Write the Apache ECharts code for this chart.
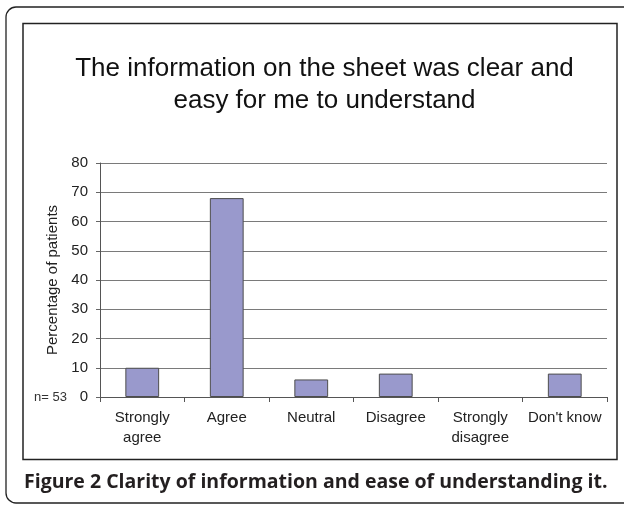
<!DOCTYPE html>
<html>
<head>
<meta charset="utf-8">
<script src="https://cdn.jsdelivr.net/npm/echarts@6/dist/echarts.min.js"></script>
<style>
  html, body { margin: 0; padding: 0; background: #fff; }
  #chart { width: 624px; height: 505px; }
</style>
</head>
<body>
<div id="chart"></div>
<script>
const categories = ["Strongly\nagree", "Agree", "Neutral", "Disagree", "Strongly\ndisagree", "Don't know"];
const percentages = [10, 68, 6, 8, 0, 8];
const yTicks = { min: 0, max: 80, step: 10 };
const titleLines = "The information on the sheet was clear and\neasy for me to understand";
const sampleNote = "n= 53";
const caption = "Figure 2 Clarity of information and ease of understanding it.";

const chart = echarts.init(document.getElementById("chart"));

chart.setOption({
  backgroundColor: "#fff",
  animation: false,
  grid: { left: 100, right: 17, top: 163, bottom: 108 },
  xAxis: {
    type: "category",
    data: categories,
    axisLine: { lineStyle: { color: "#555", width: 1 } },
    axisTick: { show: true, length: 5, lineStyle: { color: "#555" } },
    axisLabel: {
      interval: 0,
      margin: 11,
      fontFamily: "Liberation Sans",
      fontSize: 15,
      lineHeight: 20,
      color: "#222"
    }
  },
  yAxis: {
    type: "value",
    min: yTicks.min,
    max: yTicks.max,
    interval: yTicks.step,
    name: "Percentage of patients",
    nameLocation: "middle",
    nameRotate: 90,
    nameGap: 34,
    nameTextStyle: { fontFamily: "Liberation Sans", fontSize: 15, color: "#222" },
    axisLine: { show: true, lineStyle: { color: "#555", width: 1 } },
    axisTick: { show: true, length: 4, lineStyle: { color: "#666" } },
    axisLabel: { margin: 12, fontFamily: "Liberation Sans", fontSize: 15, color: "#222" },
    splitLine: { lineStyle: { color: "#7a7a7a", width: 1 } }
  },
  series: [{
    type: "bar",
    // a zero share draws no bar at all in the reference
    data: percentages.map(v => (v === 0 ? "-" : v)),
    barWidth: "40%",
    itemStyle: { color: "#9999cc", borderColor: "#4d4d4d", borderWidth: 1 }
  }],
  graphic: [
    {
      type: "rect",
      shape: { x: 6, y: 7, width: 640, height: 496, r: 10 },
      style: { fill: null, stroke: "#222", lineWidth: 1.3 },
      z: 100
    },
    {
      type: "rect",
      shape: { x: 23, y: 23.5, width: 594, height: 436 },
      style: { fill: null, stroke: "#222", lineWidth: 1.5 },
      z: 100
    },
    {
      // chart title, centred a little right of the page middle as in the original
      type: "text",
      x: 324.5, y: 53,
      style: {
        text: titleLines,
        fontFamily: "Liberation Sans",
        fontSize: 26,
        lineHeight: 32,
        fill: "#111",
        align: "center",
        verticalAlign: "top"
      }
    },
    {
      type: "text",
      x: 34, y: 397,
      style: {
        text: sampleNote,
        fontFamily: "Liberation Sans",
        fontSize: 13,
        fill: "#333",
        verticalAlign: "middle"
      }
    },
    {
      type: "text",
      x: 24, y: 482,
      style: {
        text: caption,
        fontFamily: "Open Sans",
        fontWeight: "bold",
        fontSize: 19.5,
        fill: "#231f20",
        verticalAlign: "middle"
      }
    }
  ]
});
</script>
</body>
</html>
